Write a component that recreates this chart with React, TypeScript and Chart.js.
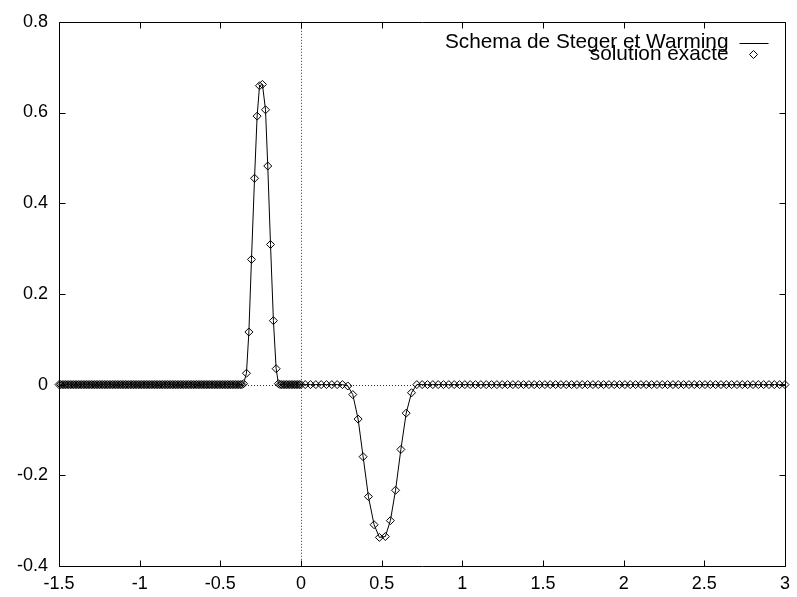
import React, { useEffect, useRef } from "react";
import { Chart, registerables } from "chart.js";

Chart.register(...registerables);

// ---- Data ----
// Flat (zero) parts of the solution: mesh segments
const flatFrom = [-1.5, -0.13, 0.026, 0.751];
const flatTo = [-0.366, 0.0, 0.257, 3.0];
const flatCount = [114, 14, 8, 69];

// Positive pulse
const pulseX = [-0.356, -0.338, -0.323, -0.307, -0.288, -0.272, -0.257, -0.239, -0.22, -0.206, -0.189, -0.171, -0.154, -0.14];
const pulseY = [0.002, 0.025, 0.116, 0.276, 0.455, 0.592, 0.659, 0.662, 0.606, 0.482, 0.309, 0.141, 0.035, 0.002];

// Negative trough
const troughX = [0.29, 0.321, 0.354, 0.385, 0.418, 0.453, 0.486, 0.523, 0.554, 0.586, 0.619, 0.652, 0.685, 0.718];
const troughY = [-0.003, -0.022, -0.076, -0.159, -0.247, -0.309, -0.337, -0.335, -0.3, -0.233, -0.143, -0.063, -0.018, 0.0];

const xTicks = [-1.5, -1, -0.5, 0, 0.5, 1, 1.5, 2, 2.5, 3];
const xTickLabels = ["-1.5", "-1", "-0.5", "0", "0.5", "1", "1.5", "2", "2.5", "3"];
const yTicks = [-0.4, -0.2, 0, 0.2, 0.4, 0.6, 0.8];
const yTickLabels = ["-0.4", "-0.2", "0", "0.2", "0.4", "0.6", "0.8"];

const legendLabels = ["Schema de Steger et Warming", "solution exacte"];

const FONT = '"Liberation Sans", Arial, Helvetica, sans-serif';

function buildPoints() {
  const pts: { x: number; y: number }[] = [];
  const flat = (i: number) => {
    const n = flatCount[i];
    for (let k = 0; k < n; k++) {
      const x = n === 1 ? flatFrom[i] : flatFrom[i] + ((flatTo[i] - flatFrom[i]) * k) / (n - 1);
      pts.push({ x, y: 0 });
    }
  };
  flat(0);
  pulseX.forEach((x, i) => pts.push({ x, y: pulseY[i] }));
  flat(1);
  flat(2);
  troughX.forEach((x, i) => pts.push({ x, y: troughY[i] }));
  flat(3);
  return pts;
}

const gnuplotPlugin = {
  id: "gnuplotFrame",
  beforeDatasetsDraw(chart: any) {
    const { ctx, chartArea, scales } = chart;
    const { left, right, top, bottom } = chartArea;
    ctx.save();
    ctx.strokeStyle = "#333";
    ctx.lineWidth = 1;
    ctx.setLineDash([1, 2]);
    const x0 = Math.round(scales.x.getPixelForValue(0)) + 0.5;
    const y0 = Math.round(scales.y.getPixelForValue(0)) + 0.5;
    ctx.beginPath();
    ctx.moveTo(x0, top);
    ctx.lineTo(x0, bottom);
    ctx.moveTo(left, y0);
    ctx.lineTo(right, y0);
    ctx.stroke();
    ctx.restore();
  },
  afterDatasetsDraw(chart: any) {
    const { ctx, chartArea, scales } = chart;
    const { left, right, top, bottom } = chartArea;
    const L = Math.round(left) + 0.5;
    const R = Math.round(right) + 0.5;
    const T = Math.round(top) + 0.5;
    const B = Math.round(bottom) + 0.5;
    const tl = 6;
    ctx.save();
    ctx.strokeStyle = "#000";
    ctx.lineWidth = 1;
    ctx.beginPath();
    ctx.rect(L, T, R - L, B - T);
    xTicks.forEach((v) => {
      const px = Math.round(scales.x.getPixelForValue(v)) + 0.5;
      ctx.moveTo(px, B);
      ctx.lineTo(px, B - tl);
      ctx.moveTo(px, T);
      ctx.lineTo(px, T + tl);
    });
    yTicks.forEach((v) => {
      const py = Math.round(scales.y.getPixelForValue(v)) + 0.5;
      ctx.moveTo(L, py);
      ctx.lineTo(L + tl, py);
      ctx.moveTo(R, py);
      ctx.lineTo(R - tl, py);
    });
    ctx.stroke();

    // Legend (gnuplot style, inside top-right)
    const textRight = R - 57;
    const y1 = T + 20;
    const y2 = T + 32;
    ctx.fillStyle = "#000";
    ctx.font = `20.8px ${FONT}`;
    ctx.textAlign = "right";
    ctx.textBaseline = "middle";
    ctx.fillText(legendLabels[0], textRight, y1);
    ctx.fillText(legendLabels[1], textRight, y2);
    ctx.beginPath();
    ctx.moveTo(textRight + 11, Math.round(y1) + 0.5);
    ctx.lineTo(textRight + 40, Math.round(y1) + 0.5);
    ctx.stroke();
    const dx = textRight + 25;
    const r = 4;
    ctx.beginPath();
    ctx.moveTo(dx - r, y2);
    ctx.lineTo(dx, y2 - r);
    ctx.lineTo(dx + r, y2);
    ctx.lineTo(dx, y2 + r);
    ctx.closePath();
    ctx.stroke();
    ctx.restore();
  },
};

export default function App() {
  const canvasRef = useRef<HTMLCanvasElement | null>(null);

  useEffect(() => {
    document.body.style.margin = "0";
    const canvas = canvasRef.current;
    if (!canvas) return;
    const pts = buildPoints();
    const chart = new Chart(canvas, {
      type: "line",
      data: {
        datasets: [
          {
            type: "line",
            label: legendLabels[0],
            data: pts,
            borderColor: "#000",
            borderWidth: 1,
            pointRadius: 0,
            tension: 0,
            fill: false,
            clip: false as any,
            order: 2,
          },
          {
            type: "scatter",
            label: legendLabels[1],
            data: pts,
            showLine: false,
            pointStyle: "rectRot",
            pointRadius: 4,
            pointBorderWidth: 1,
            pointBorderColor: "#000",
            pointBackgroundColor: "rgba(0,0,0,0)",
            clip: false as any,
            order: 1,
          },
        ],
      },
      options: {
        animation: false,
        responsive: false,
        maintainAspectRatio: false,
        layout: { padding: { top: 20, right: 9, left: 0, bottom: 0 } },
        plugins: {
          legend: { display: false },
          tooltip: { enabled: false },
        },
        events: [],
        scales: {
          x: {
            type: "linear",
            min: -1.5,
            max: 3,
            grid: { display: false, drawTicks: false },
            border: { display: false },
            afterBuildTicks: (scale: any) => {
              scale.ticks = xTicks.map((v) => ({ value: v }));
            },
            afterFit: (scale: any) => {
              scale.height = 31;
            },
            ticks: {
              autoSkip: false,
              maxRotation: 0,
              padding: 7,
              color: "#000",
              font: { family: FONT, size: 18 },
              callback: (_v: any, i: number) => xTickLabels[i],
            },
          },
          y: {
            type: "linear",
            min: -0.4,
            max: 0.8,
            grid: { display: false, drawTicks: false },
            border: { display: false },
            afterBuildTicks: (scale: any) => {
              scale.ticks = yTicks.map((v) => ({ value: v }));
            },
            afterFit: (scale: any) => {
              scale.width = 59;
            },
            ticks: {
              autoSkip: false,
              padding: 11,
              color: "#000",
              font: { family: FONT, size: 18 },
              callback: (_v: any, i: number) => yTickLabels[i],
            },
          },
        },
      },
      plugins: [gnuplotPlugin],
    });
    return () => chart.destroy();
  }, []);

  return (
    <div style={{ position: "absolute", left: 0, top: 0, width: 797, height: 597, background: "#fff" }}>
      <canvas ref={canvasRef} width={797} height={597} style={{ display: "block", width: 797, height: 597 }} />
    </div>
  );
}
